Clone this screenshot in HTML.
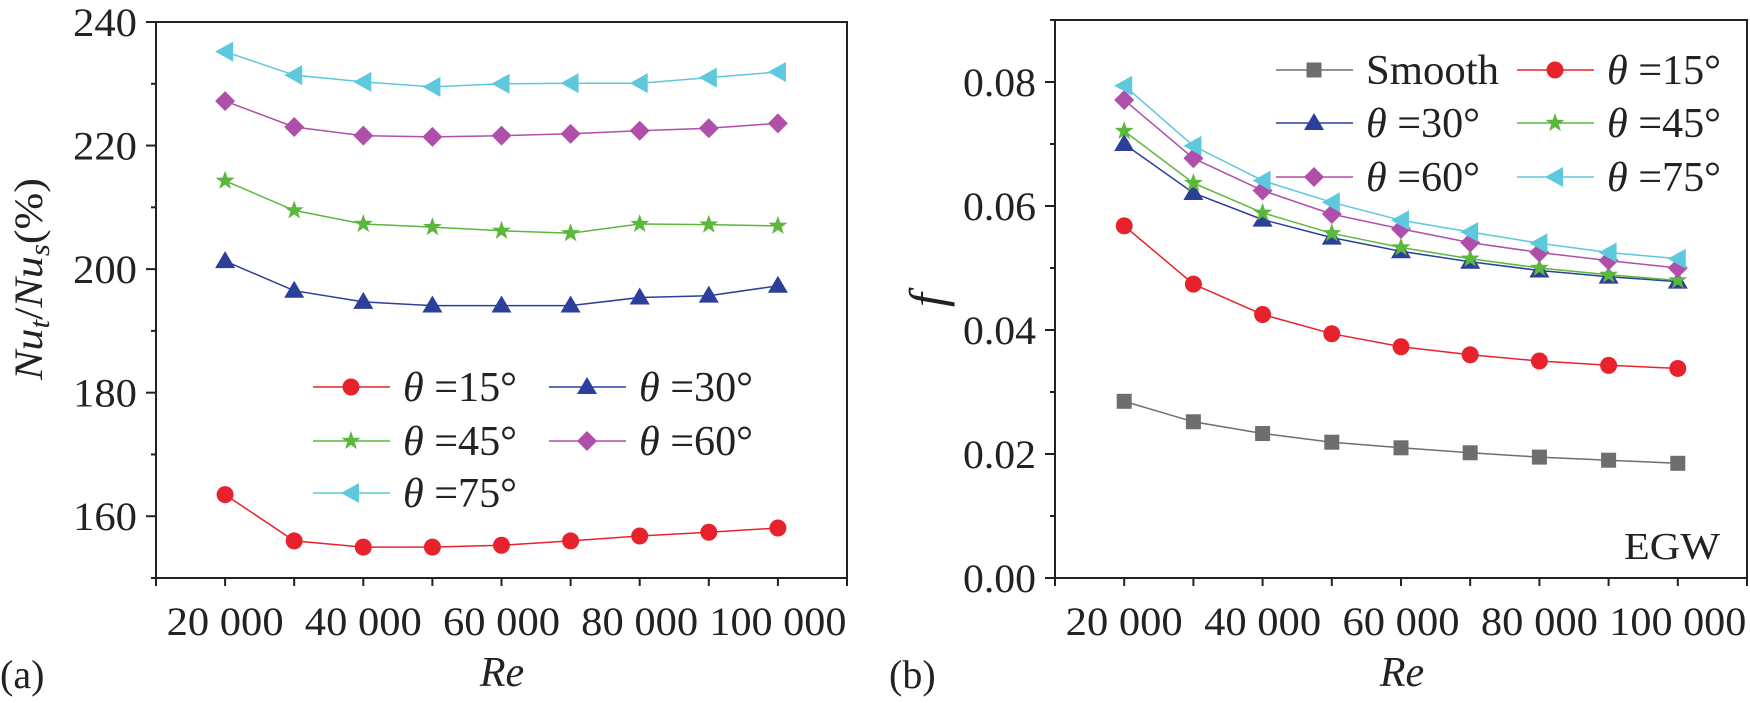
<!DOCTYPE html>
<html><head><meta charset="utf-8">
<style>
html,body{margin:0;padding:0;background:#fff;}
svg{display:block;font-family:"Liberation Serif",serif;}
</style></head>
<body>
<svg id="fig" width="1750" height="703" viewBox="0 0 1750 703" xmlns="http://www.w3.org/2000/svg"></svg>
<script>
const reValues = [20000,30000,40000,50000,60000,70000,80000,90000,100000];
const xTickLabels = ["20 000","40 000","60 000","80 000","100 000"];
const xTickValues = [20000,40000,60000,80000,100000];
// Panel (a): Nu_t/Nu_s (%)
const nuTheta15 = [163.5,156.0,155.0,155.0,155.3,156.0,156.8,157.4,158.1];
const nuTheta30 = [201.3,196.5,194.7,194.1,194.1,194.1,195.4,195.7,197.3];
const nuTheta45 = [214.3,209.5,207.3,206.8,206.2,205.8,207.3,207.2,207.0];
const nuTheta60 = [227.2,223.0,221.6,221.4,221.6,221.9,222.4,222.8,223.6];
const nuTheta75 = [235.2,231.4,230.3,229.5,230.0,230.1,230.1,231.0,231.9];
const aYTicks = [160,180,200,220,240];
// Panel (b): friction factor f
const fSmooth = [0.0285,0.0252,0.0233,0.0219,0.0210,0.0202,0.0195,0.0190,0.0185];
const fTheta15 = [0.0568,0.0474,0.0425,0.0394,0.0373,0.0360,0.0350,0.0343,0.0338];
const fTheta30 = [0.0700,0.0621,0.0578,0.0549,0.0527,0.0510,0.0496,0.0486,0.0478];
const fTheta45 = [0.0721,0.0637,0.0589,0.0556,0.0533,0.0515,0.0500,0.0489,0.0480];
const fTheta60 = [0.0771,0.0677,0.0625,0.0587,0.0563,0.0541,0.0525,0.0512,0.0500];
const fTheta75 = [0.0794,0.0697,0.0641,0.0606,0.0577,0.0558,0.0540,0.0525,0.0515];
const bYTicks = [0,0.02,0.04,0.06,0.08];
const bYTickLabels = ["0.00","0.02","0.04","0.06","0.08"];

const NS="http://www.w3.org/2000/svg";
const svg=document.getElementById('fig');
function el(tag,attrs,parent){const e=document.createElementNS(NS,tag);for(const k in attrs)e.setAttribute(k,attrs[k]);(parent||svg).appendChild(e);return e;}

const COLORS={gray:"#6e6e6f",red:"#e8222c",blue:"#2b3f9b",green:"#5cb83c",magenta:"#b04fa9",cyan:"#5ec8dc"};

function marker(g,shape,cx,cy,color){
  let m;
  if(shape==='circle'){m=el('circle',{cx:cx,cy:cy,r:8.5,fill:color},g);}
  else if(shape==='square'){m=el('rect',{x:cx-7.5,y:cy-7.5,width:15,height:15,fill:color},g);}
  else if(shape==='triangle'){m=el('polygon',{points:`${cx},${cy-10} ${cx-10},${cy+7} ${cx+10},${cy+7}`,fill:color},g);}
  else if(shape==='diamond'){m=el('polygon',{points:`${cx},${cy-10} ${cx+10},${cy} ${cx},${cy+10} ${cx-10},${cy}`,fill:color},g);}
  else if(shape==='star'){let p=[];for(let i=0;i<10;i++){const r=i%2?4:10;const a=-Math.PI/2+i*Math.PI/5;p.push((cx+r*Math.cos(a)).toFixed(1)+','+(cy+r*Math.sin(a)).toFixed(1));}m=el('polygon',{points:p.join(' '),fill:color},g);}
  else if(shape==='left'){m=el('polygon',{points:`${cx-10},${cy} ${cx+8},${cy-10} ${cx+8},${cy+10}`,fill:color},g);}
  
  
  return m;
}

function panel(cfg){
  const g=el('g',{});
  
  
  const xs=v=>cfg.L+(v-cfg.xmin)/(cfg.xmax-cfg.xmin)*(cfg.R-cfg.L);
  const ys=v=>cfg.B-(v-cfg.ymin)/(cfg.ymax-cfg.ymin)*(cfg.B-cfg.T);
  const frame=el('rect',{x:cfg.L,y:cfg.T,width:cfg.R-cfg.L,height:cfg.B-cfg.T,fill:'none',stroke:'#222',"stroke-width":2},g);
  
  
  for(let v=cfg.xmin;v<=cfg.xmax;v+=10000){
    const t=el('line',{x1:xs(v),x2:xs(v),y1:cfg.B,y2:cfg.B+8,stroke:'#222',"stroke-width":2},g);
    
    
  }
  xTickValues.forEach((v,i)=>{
    const t=el('text',{x:xs(v),y:cfg.B+57,"font-size":40,"text-anchor":"middle",fill:'#222',textLength:(xTickLabels[i].length>6?137:117),lengthAdjust:'spacingAndGlyphs'},g);
    t.textContent=xTickLabels[i];
    
    
  });
  const step=cfg.yTicks[1]-cfg.yTicks[0];
  for(let v=cfg.ymin;v<=cfg.ymax+1e-9;v+=step/2){
    const major=cfg.yTicks.some(t=>Math.abs(t-v)<1e-9);
    const t=el('line',{x1:cfg.L-(major?10:5),x2:cfg.L,y1:ys(v),y2:ys(v),stroke:'#222',"stroke-width":2},g);
    
    
  }
  cfg.yTicks.forEach((v,i)=>{
    const t=el('text',{x:cfg.L-19,y:ys(v)+14,"font-size":40,"text-anchor":"end",fill:'#222',textLength:cfg.yLabW,lengthAdjust:'spacingAndGlyphs'},g);
    t.textContent=cfg.yLabels[i];
    
    
  });
  cfg.series.forEach(s=>{
    const sg=el('g',{},g);
    
    
    const pts=s.data.map((v,i)=>xs(reValues[i]).toFixed(1)+','+ys(v).toFixed(1)).join(' ');
    const pl=el('polyline',{points:pts,fill:'none',stroke:s.color,"stroke-width":1.5},sg);
    
    
    s.data.forEach((v,i)=>marker(sg,s.shape,xs(reValues[i]),ys(v),s.color));
  });
  cfg.legend.forEach(l=>{
    const lg=el('g',{},g);
    
    
    el('line',{x1:l.x,x2:l.x+77,y1:l.y,y2:l.y,stroke:l.color,"stroke-width":1.5},lg);
    marker(lg,l.shape,l.x+38,l.y,l.color);
    const t=el('text',{x:l.x+90,y:l.y+14,"font-size":42,fill:'#222',textLength:(l.plain?133:114),lengthAdjust:'spacingAndGlyphs'},lg);
    if(l.plain){t.textContent=l.plain;}
    else{
      const a=el('tspan',{"font-style":"italic"},t);a.textContent='θ';
      const b=el('tspan',{},t);b.textContent=' ='+l.deg+'°';
    }
  });
  return {xs,ys};
}

const sA=[
 {key:'theta15',data:nuTheta15,color:COLORS.red,shape:'circle'},
 {key:'theta30',data:nuTheta30,color:COLORS.blue,shape:'triangle'},
 {key:'theta45',data:nuTheta45,color:COLORS.green,shape:'star'},
 {key:'theta60',data:nuTheta60,color:COLORS.magenta,shape:'diamond'},
 {key:'theta75',data:nuTheta75,color:COLORS.cyan,shape:'left'}];
panel({name:'panel-a',L:156,R:847,T:22,B:578,xmin:10000,xmax:110000,ymin:150,ymax:240,
  yTicks:aYTicks,yLabels:aYTicks.map(String),yLabW:64,series:sA,
  legend:[
   {key:'theta15',x:313,y:387,color:COLORS.red,shape:'circle',deg:15},
   {key:'theta30',x:549,y:387,color:COLORS.blue,shape:'triangle',deg:30},
   {key:'theta45',x:313,y:441,color:COLORS.green,shape:'star',deg:45},
   {key:'theta60',x:549,y:441,color:COLORS.magenta,shape:'diamond',deg:60},
   {key:'theta75',x:313,y:493,color:COLORS.cyan,shape:'left',deg:75}]});

const sB=[
 {key:'smooth',data:fSmooth,color:COLORS.gray,shape:'square'},
 {key:'theta15',data:fTheta15,color:COLORS.red,shape:'circle'},
 {key:'theta30',data:fTheta30,color:COLORS.blue,shape:'triangle'},
 {key:'theta45',data:fTheta45,color:COLORS.green,shape:'star'},
 {key:'theta60',data:fTheta60,color:COLORS.magenta,shape:'diamond'},
 {key:'theta75',data:fTheta75,color:COLORS.cyan,shape:'left'}];
panel({name:'panel-b',L:1055,R:1747,T:20,B:578,xmin:10000,xmax:110000,ymin:0,ymax:0.09,
  yTicks:bYTicks,yLabels:bYTickLabels,yLabW:73,series:sB,
  legend:[
   {key:'smooth',x:1276,y:70,color:COLORS.gray,shape:'square',plain:'Smooth'},
   {key:'theta15',x:1517,y:70,color:COLORS.red,shape:'circle',deg:15},
   {key:'theta30',x:1276,y:123,color:COLORS.blue,shape:'triangle',deg:30},
   {key:'theta45',x:1517,y:123,color:COLORS.green,shape:'star',deg:45},
   {key:'theta60',x:1276,y:177,color:COLORS.magenta,shape:'diamond',deg:60},
   {key:'theta75',x:1517,y:177,color:COLORS.cyan,shape:'left',deg:75}]});
</script>
<svg width="1750" height="703" style="position:absolute;left:0;top:0;font-family:'Liberation Serif',serif" xmlns="http://www.w3.org/2000/svg">
  <text transform="translate(42,279) rotate(-90)" text-anchor="middle" font-size="40" fill="#222" textLength="202" lengthAdjust="spacingAndGlyphs"><tspan font-style="italic">Nu</tspan><tspan font-style="italic" font-size="28" dy="7">t</tspan><tspan dy="-7">/</tspan><tspan font-style="italic">Nu</tspan><tspan font-style="italic" font-size="28" dy="7">s</tspan><tspan dy="-7">(%)</tspan></text>
  <text x="502" y="686" text-anchor="middle" font-size="42" font-style="italic" fill="#222">Re</text>
  <text x="0" y="688" font-size="40" fill="#222">(a)</text>
  <text transform="translate(944,300) rotate(-90)" text-anchor="middle" font-size="50" font-style="italic" fill="#222">f</text>
  <text x="1402" y="686" text-anchor="middle" font-size="42" font-style="italic" fill="#222">Re</text>
  <text x="889" y="688" font-size="40" fill="#222">(b)</text>
  <text x="1720" y="559" text-anchor="end" font-size="38" fill="#222" textLength="96" lengthAdjust="spacingAndGlyphs">EGW</text>
</svg>
</body></html>
